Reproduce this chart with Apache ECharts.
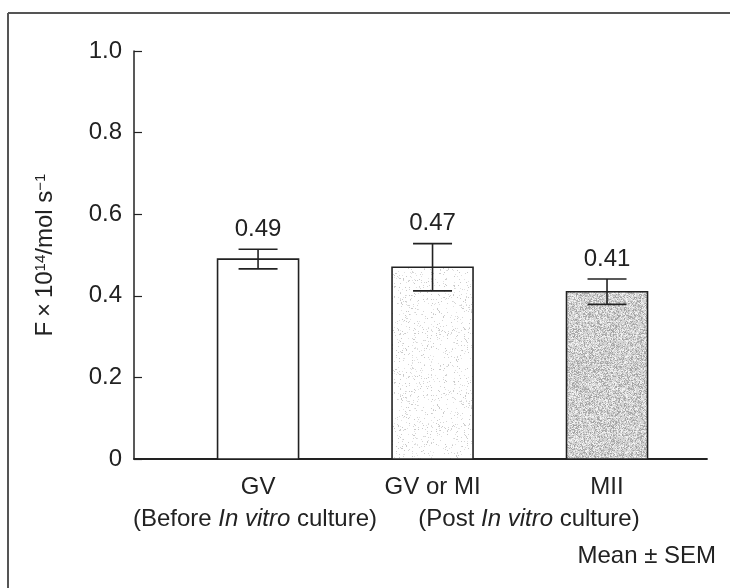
<!DOCTYPE html>
<html>
<head>
<meta charset="utf-8">
<script src="https://cdn.jsdelivr.net/npm/echarts@6/dist/echarts.min.js"></script>
<style>
  html, body { margin: 0; padding: 0; background: #fff; }
  #chart { width: 730px; height: 588px; }
</style>
</head>
<body>
<div id="chart"></div>
<script>
// Oocyte groups and measured values (mean and SEM)
const categories = ['GV', 'GV or MI', 'MII'];
const meanValues = [0.49, 0.47, 0.41];
const semValues = [0.024, 0.058, 0.031];
const groupNotes = ['(Before ', '(Post '];
const yTicks = [0, 0.2, 0.4, 0.6, 0.8, 1.0];

const FONT = '"Liberation Sans", Arial, sans-serif';
const FS = 24;
const INK = '#222';

// Small deterministic hash used to scatter print-like speckles in the fills
function hash(i) {
  let x = (i * 2654435761) >>> 0;
  x ^= x >>> 15; x = Math.imul(x, 2246822519) >>> 0;
  x ^= x >>> 13; x = Math.imul(x, 3266489917) >>> 0;
  x ^= x >>> 16;
  return (x >>> 0) / 4294967296;
}
function speckle(base, dotColors, density, seed) {
  const c = document.createElement('canvas');
  c.width = 96; c.height = 96;
  const g = c.getContext('2d');
  g.fillStyle = base; g.fillRect(0, 0, 96, 96);
  for (let y = 0; y < 96; y++) {
    for (let x = 0; x < 96; x++) {
      const h = hash(seed + y * 96 + x);
      if (h < density) {
        g.fillStyle = dotColors[Math.floor(hash(seed * 7 + y * 131 + x * 17) * dotColors.length)];
        g.fillRect(x, y, 1, 1);
      }
    }
  }
  return c;
}
const fills = [
  '#ffffff',
  { image: speckle('#ffffff', ['#d6d6d6', '#cacaca', '#e2e2e2'], 0.08, 11), repeat: 'repeat' },
  { image: speckle('#d4d4d4', ['#acacac', '#b8b8b8', '#ececec', '#a2a2a2', '#f4f4f4'], 0.55, 29), repeat: 'repeat' }
];

const seriesData = categories.map((c, i) => [i + 1, meanValues[i], semValues[i]]);

const chart = echarts.init(document.getElementById('chart'), null, { renderer: 'canvas' });

const noteRich = {
  n: { fontFamily: FONT, fontSize: FS, fill: INK },
  i: { fontFamily: FONT, fontSize: FS, fontStyle: 'italic', fill: INK }
};

chart.setOption({
  backgroundColor: '#fff',
  animation: false,
  grid: { left: 134, right: 23, top: 51, bottom: 129 },
  xAxis: {
    type: 'value',
    min: 0.289,
    max: 3.573,
    splitLine: { show: false },
    axisLine: { show: true, onZero: false, lineStyle: { color: INK, width: 1.8 } },
    axisTick: {
      show: true, inside: true, length: 8,
      customValues: [1, 2, 3],
      lineStyle: { color: INK, width: 1.2 }
    },
    axisLabel: {
      show: true,
      customValues: [1, 2, 3],
      formatter: v => categories[Math.round(v) - 1] || '',
      color: INK, fontFamily: FONT, fontSize: FS, margin: 16
    }
  },
  yAxis: {
    type: 'value',
    min: 0, max: 1, interval: 0.2,
    splitLine: { show: false },
    axisLine: { show: true, lineStyle: { color: INK, width: 1.5 } },
    axisTick: { show: true, inside: true, length: 8, lineStyle: { color: INK, width: 1.2 } },
    axisLabel: {
      color: INK, fontFamily: FONT, fontSize: FS, margin: 12,
      formatter: v => (v === 0 ? '0' : v.toFixed(1))
    },
    name: '{n|F\u2009×\u200910}{s|14}{n|/mol s}{s|−1}',
    nameLocation: 'middle',
    nameGap: 76,
    nameRotate: 90,
    nameTextStyle: {
      rich: {
        n: { fontFamily: FONT, fontSize: FS, color: INK },
        s: { fontFamily: FONT, fontSize: 15, color: INK, verticalAlign: 'top', padding: [0, 0, 10, 0] }
      }
    }
  },
  series: [
    {
      type: 'custom',
      data: seriesData,
      clip: false,
      renderItem: function (params, api) {
        const idx = params.dataIndex;
        const x = api.value(0), m = api.value(1), e = api.value(2);
        const base = api.coord([x, 0]);
        const top = api.coord([x, m]);
        const hi = api.coord([x, m + e]);
        const lo = api.coord([x, m - e]);
        const bw = 81, cw = 39;
        const lineStyle = { stroke: INK, lineWidth: 1.6 };
        return {
          type: 'group',
          children: [
            {
              type: 'rect',
              shape: { x: base[0] - bw / 2, y: top[1], width: bw, height: base[1] - top[1] },
              style: { fill: fills[idx], stroke: INK, lineWidth: 1.6 }
            },
            { type: 'line', shape: { x1: hi[0], y1: hi[1], x2: lo[0], y2: lo[1] }, style: lineStyle },
            { type: 'line', shape: { x1: hi[0] - cw / 2, y1: hi[1], x2: hi[0] + cw / 2, y2: hi[1] }, style: lineStyle },
            { type: 'line', shape: { x1: lo[0] - cw / 2, y1: lo[1], x2: lo[0] + cw / 2, y2: lo[1] }, style: lineStyle },
            {
              type: 'text',
              x: hi[0], y: hi[1] - 20,
              style: {
                text: m.toFixed(2),
                fill: INK, font: FS + 'px ' + FONT,
                textAlign: 'center', textVerticalAlign: 'middle'
              }
            }
          ]
        };
      }
    }
  ],
  graphic: [
    // page frame
    { type: 'line', shape: { x1: 8, y1: 13, x2: 730, y2: 13 }, style: { stroke: '#555', lineWidth: 2 } },
    { type: 'line', shape: { x1: 8, y1: 13, x2: 8, y2: 588 }, style: { stroke: '#555', lineWidth: 2 } },
    {
      type: 'text', x: 255, y: 519,
      style: {
        text: '{n|' + groupNotes[0] + '}{i|In vitro}{n| culture)}',
        textAlign: 'center', textVerticalAlign: 'middle',
        rich: noteRich
      }
    },
    {
      type: 'text', x: 529, y: 519,
      style: {
        text: '{n|' + groupNotes[1] + '}{i|In vitro}{n| culture)}',
        textAlign: 'center', textVerticalAlign: 'middle',
        rich: noteRich
      }
    },
    {
      type: 'text', x: 716, y: 556,
      style: {
        text: 'Mean ± SEM',
        font: FS + 'px ' + FONT, fill: INK,
        textAlign: 'right', textVerticalAlign: 'middle'
      }
    }
  ]
});
</script>
</body>
</html>
